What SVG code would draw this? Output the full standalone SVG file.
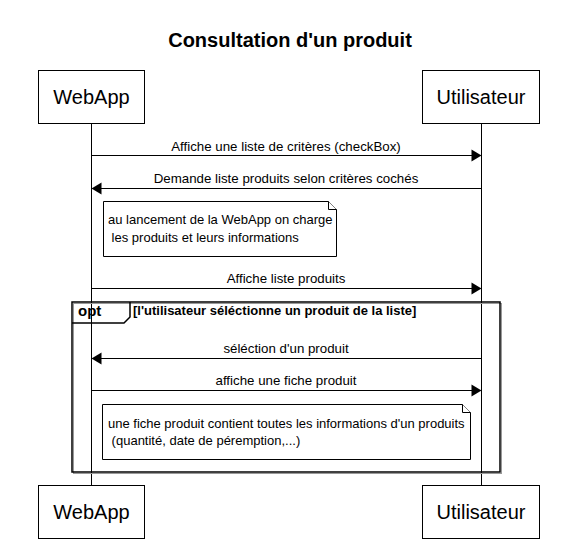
<svg xmlns="http://www.w3.org/2000/svg" width="586" height="541" viewBox="0 0 586 541">
<style>
text{font-family:"Liberation Sans",Arial,sans-serif;fill:#000}
.title{font-size:20px;font-weight:bold}
.part{font-size:20px}
.msg{font-size:13.3px}
.note{font-size:13px;white-space:pre}
.box{fill:#fff;stroke:#000;stroke-width:1}
.life{stroke:#000;stroke-width:1}
.arrow{stroke:#000;stroke-width:1;fill:none}
.head{fill:#000}
.notebox{fill:#fff;stroke:#000;stroke-width:1}
.frame{fill:none;stroke:#000;stroke-width:1.5}
.shadow{fill:none;stroke:#999;stroke-width:1}
</style>
<rect width="586" height="541" fill="#fff"/>
<text class="title" x="290" y="47" text-anchor="middle">Consultation d'un produit</text>
<g id="lifelines">
<line class="life" x1="91.5" y1="123" x2="91.5" y2="485"/>
<line class="life" x1="481.5" y1="123" x2="481.5" y2="485"/>
</g>
<g id="frame-opt">
<rect class="shadow" x="73.5" y="303.5" width="428" height="170"/>
<rect class="frame" x="72" y="302" width="428" height="170"/>
<path class="frame" d="M72,323 L124,323 L130,317 L130,302" />
<text x="78" y="316" style="font-size:15px;font-weight:bold">opt</text>
<text x="133" y="315" style="font-size:13px;font-weight:bold">[l'utilisateur séléctionne un produit de la liste]</text>
</g>
<g id="connectors">
<line class="arrow" x1="91.5" y1="155.5" x2="472" y2="155.5"/>
<polygon class="head" points="481.5,155.5 471.5,149.5 471.5,161.5"/>
<text class="msg" x="286" y="151" text-anchor="middle">Affiche une liste de critères (checkBox)</text>
<line class="arrow" x1="101" y1="188.5" x2="481.5" y2="188.5"/>
<polygon class="head" points="91.5,188.5 101.5,182.5 101.5,194.5"/>
<text class="msg" x="286" y="183" text-anchor="middle">Demande liste produits selon critères cochés</text>
<line class="arrow" x1="91.5" y1="288.5" x2="472" y2="288.5"/>
<polygon class="head" points="481.5,288.5 471.5,282.5 471.5,294.5"/>
<text class="msg" x="286" y="283" text-anchor="middle">Affiche liste produits</text>
<line class="arrow" x1="101" y1="358.5" x2="481.5" y2="358.5"/>
<polygon class="head" points="91.5,358.5 101.5,352.5 101.5,364.5"/>
<text class="msg" x="286" y="353" text-anchor="middle">séléction d'un produit</text>
<line class="arrow" x1="91.5" y1="390.5" x2="472" y2="390.5"/>
<polygon class="head" points="481.5,390.5 471.5,384.5 471.5,396.5"/>
<text class="msg" x="286" y="385" text-anchor="middle">affiche une fiche produit</text>
</g>
<g id="note1">
<path class="notebox" d="M103.5,201.5 L328.5,201.5 L336.5,209.5 L336.5,256.5 L103.5,256.5 Z"/>
<path class="notebox" d="M328.5,201.5 L328.5,209.5 L336.5,209.5"/>
<text class="note" x="108" y="224">au lancement de la WebApp on charge</text>
<text class="note" x="108" y="242"> les produits et leurs informations</text>
</g>
<g id="note2">
<path class="notebox" d="M102.5,404.5 L462.5,404.5 L470.5,412.5 L470.5,459.5 L102.5,459.5 Z"/>
<path class="notebox" d="M462.5,404.5 L462.5,412.5 L470.5,412.5"/>
<text class="note" x="108" y="428">une fiche produit contient toutes les informations d'un produits</text>
<text class="note" x="108" y="445"> (quantité, date de péremption,...)</text>
</g>
<g id="webapp-top">
<rect class="box" x="38.5" y="70.5" width="106" height="53"/>
<text class="part" x="91.5" y="104" text-anchor="middle">WebApp</text>
</g>
<g id="utilisateur-top">
<rect class="box" x="422.5" y="70.5" width="117" height="53"/>
<text class="part" x="481" y="104" text-anchor="middle">Utilisateur</text>
</g>
<g id="webapp-bottom">
<rect class="box" x="38.5" y="485.5" width="106" height="53"/>
<text class="part" x="91.5" y="519" text-anchor="middle">WebApp</text>
</g>
<g id="utilisateur-bottom">
<rect class="box" x="422.5" y="485.5" width="117" height="53"/>
<text class="part" x="481" y="519" text-anchor="middle">Utilisateur</text>
</g>
</svg>
